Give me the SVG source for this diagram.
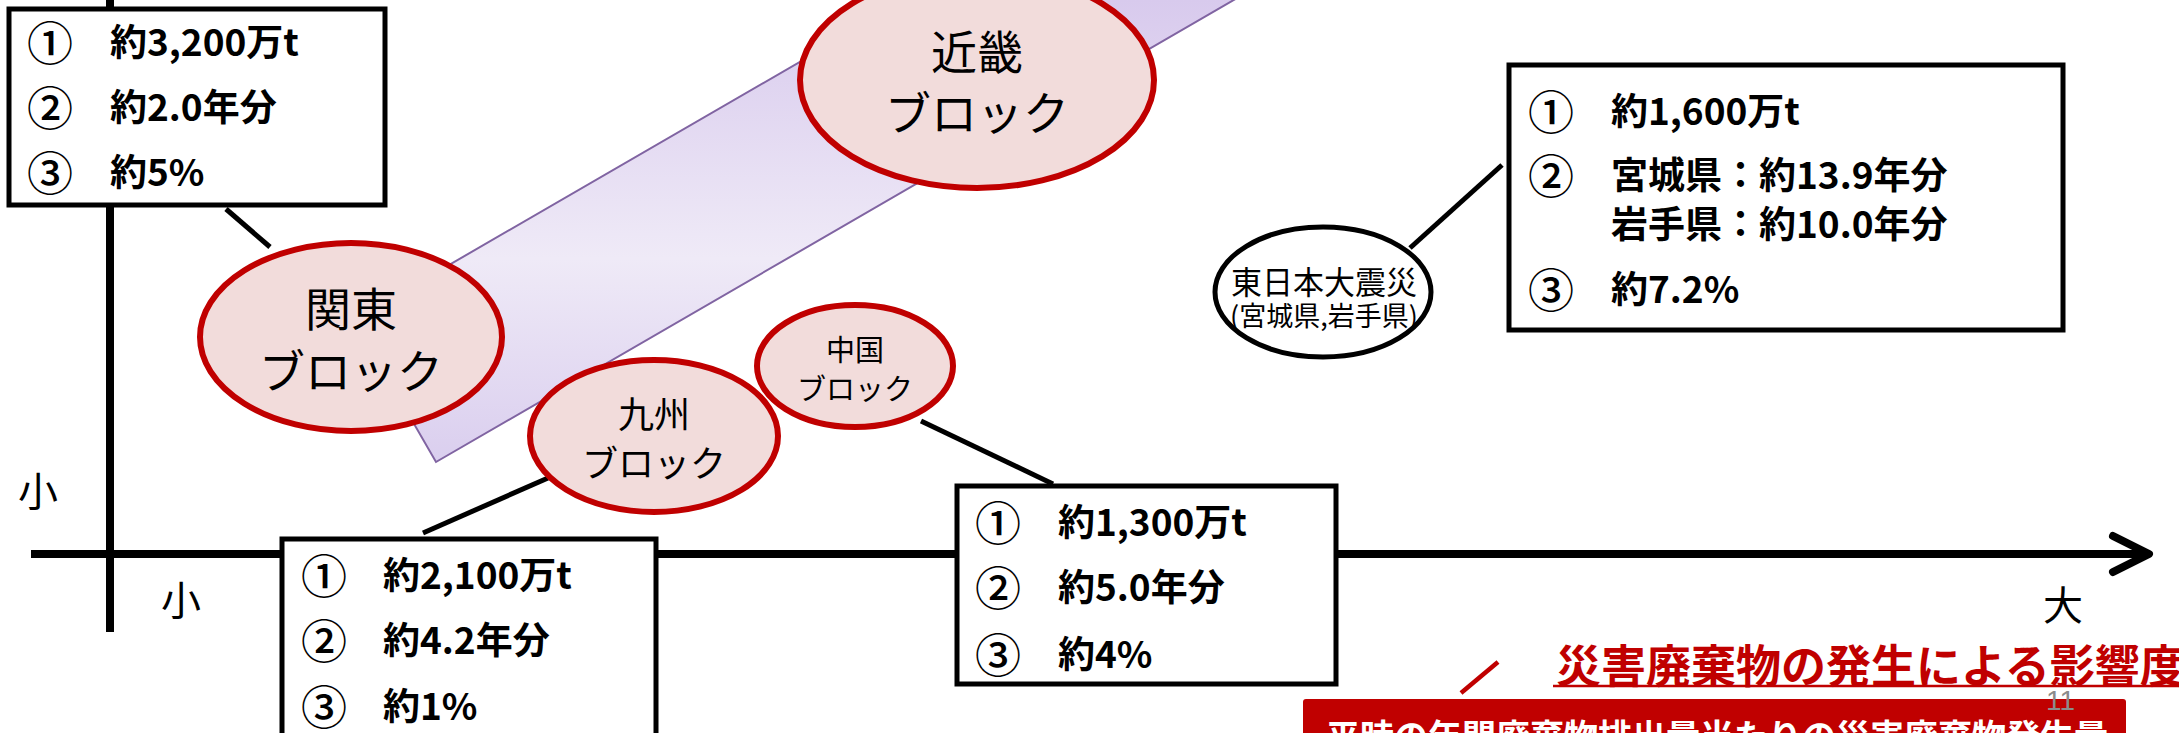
<svg xmlns="http://www.w3.org/2000/svg" width="2179" height="733" viewBox="0 0 2179 733">
<defs>
<linearGradient id="band" gradientUnits="userSpaceOnUse" x1="0" y1="0" x2="0" y2="470">
<stop offset="0" stop-color="#d8caed"/>
<stop offset="0.55" stop-color="#efeaf7"/>
<stop offset="1" stop-color="#d9cdee"/>
</linearGradient>
<style>
.box{fill:#fff;stroke:#000;stroke-width:5}
.bt{font-family:"Noto Sans CJK JP","Noto Sans CJK SC",sans-serif;font-weight:bold;font-size:37px;dominant-baseline:central;fill:#000}
.cn{font-family:"Noto Sans CJK JP","Noto Sans CJK SC",sans-serif;font-weight:500;font-size:46px;dominant-baseline:central;fill:#000}
.blk ellipse{fill:#f2dcdb;stroke:#c00000;stroke-width:6}
.et{font-family:"Noto Sans CJK JP","Noto Sans CJK SC",sans-serif;text-anchor:middle;dominant-baseline:central;fill:#000}
.ax{stroke:#000;stroke-width:8;fill:none}
.lab{font-family:"Noto Sans CJK JP","Noto Sans CJK SC",sans-serif;font-size:40px;text-anchor:middle;dominant-baseline:central;fill:#000}
.conn line{stroke:#000;stroke-width:5}
</style>
</defs>
<rect width="2179" height="733" fill="#fff"/>

<!-- band -->
<polygon id="band-shape" points="354,320 436,462 1251,-10 924,-10" fill="url(#band)" stroke="#8064a2" stroke-width="2"/>

<!-- axes -->
<g id="axes">
<line class="ax" x1="110" y1="0" x2="110" y2="632"/>
<line class="ax" x1="31" y1="554" x2="2145" y2="554"/>
<path class="ax" d="M2113,536 L2149,554 L2113,572" stroke-width="9" stroke-linecap="round" stroke-linejoin="round"/>
<text class="lab" x="38" y="489">小</text>
<text class="lab" x="181" y="598">小</text>
<text class="lab" x="2063" y="603">大</text>
</g>

<!-- connectors -->
<g id="connectors" class="conn">
<line x1="226" y1="209" x2="270" y2="247"/>
<line x1="423" y1="533" x2="548" y2="478"/>
<line x1="921" y1="421" x2="1053" y2="484"/>
<line x1="1410" y1="248" x2="1502" y2="165"/>
<line x1="1498" y1="662" x2="1461" y2="693" style="stroke:#c00000;stroke-width:4.5"/>
</g>

<!-- Kanto -->
<g id="kanto" class="blk">
<ellipse cx="351" cy="337" rx="151" ry="94"/>
<text class="et" x="351" y="306" font-size="46">関東</text>
<text class="et" x="351" y="368" font-size="46">ブロック</text>
</g>
<g id="kanto-box">
<rect class="box" x="9" y="9" width="376" height="196"/>
<text class="cn" x="27" y="40">①</text><text class="bt" x="110" y="40">約3,200万t</text>
<text class="cn" x="27" y="105">②</text><text class="bt" x="110" y="105">約2.0年分</text>
<text class="cn" x="27" y="170">③</text><text class="bt" x="110" y="170">約5%</text>
</g>

<!-- Kinki -->
<g id="kinki" class="blk">
<ellipse cx="977" cy="80" rx="177" ry="108"/>
<text class="et" x="977" y="49" font-size="46">近畿</text>
<text class="et" x="977" y="110" font-size="46">ブロック</text>
</g>

<!-- Kyushu -->
<g id="kyushu" class="blk">
<ellipse cx="654" cy="436" rx="124" ry="76"/>
<text class="et" x="654" y="412" font-size="36">九州</text>
<text class="et" x="654" y="461" font-size="36">ブロック</text>
</g>
<g id="kyushu-box">
<rect class="box" x="282" y="539" width="374" height="220"/>
<text class="cn" x="301" y="573">①</text><text class="bt" x="383" y="573">約2,100万t</text>
<text class="cn" x="301" y="638">②</text><text class="bt" x="383" y="638">約4.2年分</text>
<text class="cn" x="301" y="704">③</text><text class="bt" x="383" y="704">約1%</text>
</g>

<!-- Chugoku -->
<g id="chugoku" class="blk">
<ellipse cx="855" cy="366" rx="98" ry="61"/>
<text class="et" x="855" y="348" font-size="29">中国</text>
<text class="et" x="855" y="387" font-size="29">ブロック</text>
</g>
<g id="chugoku-box">
<rect class="box" x="957" y="486" width="379" height="198"/>
<text class="cn" x="975" y="520">①</text><text class="bt" x="1058" y="520">約1,300万t</text>
<text class="cn" x="975" y="585">②</text><text class="bt" x="1058" y="585">約5.0年分</text>
<text class="cn" x="975" y="652">③</text><text class="bt" x="1058" y="652">約4%</text>
</g>

<!-- Great East Japan Earthquake -->
<g id="tohoku">
<ellipse cx="1323" cy="292" rx="108" ry="65" fill="#fff" stroke="#000" stroke-width="5"/>
<text class="et" x="1324" y="280" font-size="32" textLength="186" lengthAdjust="spacingAndGlyphs">東日本大震災</text>
<text class="et" x="1324" y="314" font-size="27">(宮城県,岩手県)</text>
</g>
<g id="tohoku-box">
<rect class="box" x="1509" y="65" width="554" height="265"/>
<text class="cn" x="1528" y="109">①</text><text class="bt" x="1611" y="109">約1,600万t</text>
<text class="cn" x="1528" y="173">②</text><text class="bt" x="1611" y="173">宮城県：約13.9年分</text>
<text class="bt" x="1611" y="222">岩手県：約10.0年分</text>
<text class="cn" x="1528" y="287">③</text><text class="bt" x="1611" y="287">約7.2%</text>
</g>

<!-- title -->
<g id="title">
<text x="1556" y="663" font-family="'Noto Sans CJK JP','Noto Sans CJK SC',sans-serif" font-weight="bold" font-size="45" fill="#c00000" dominant-baseline="central">災害廃棄物の発生による影響度</text>
<line x1="1553" y1="686" x2="2179" y2="686" stroke="#c00000" stroke-width="2.5"/>
</g>

<!-- bottom red box -->
<g id="note">
<rect x="1303" y="699" width="823" height="60" rx="3" fill="#c00000"/>
<text x="1326" y="734" font-family="'Noto Sans CJK JP','Noto Sans CJK SC',sans-serif" font-weight="bold" font-size="34" fill="#fff" dominant-baseline="central">平時の年間廃棄物排出量当たりの災害廃棄物発生量</text>
</g>

<text id="page" x="2046" y="710" font-family="'Liberation Sans',sans-serif" font-size="28" fill="#8b8b8b">11</text>
</svg>
